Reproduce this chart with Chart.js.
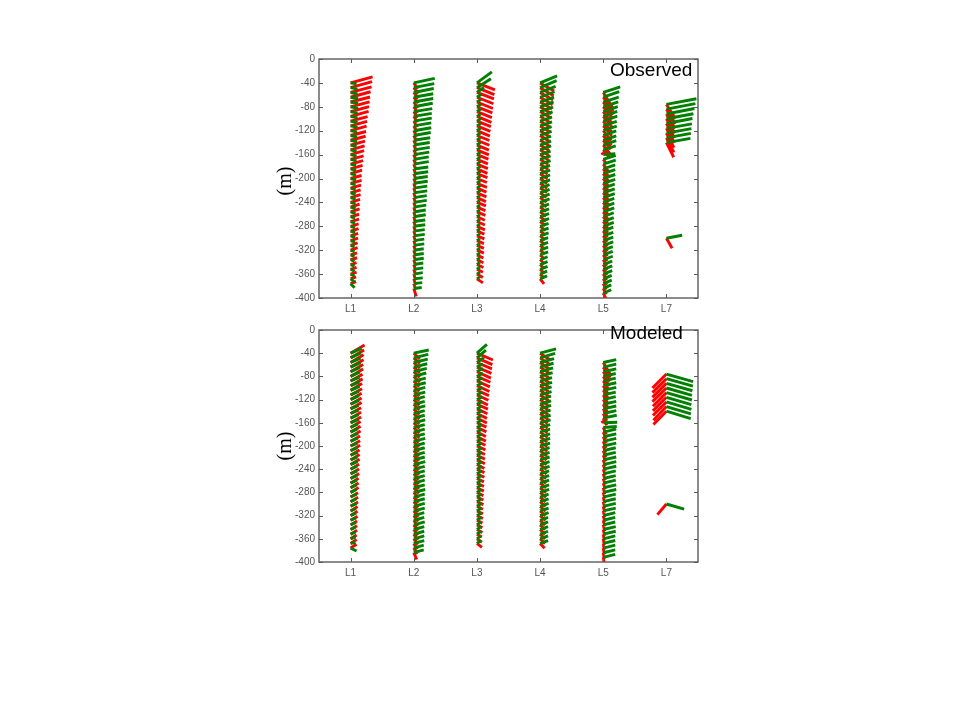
<!DOCTYPE html>
<html>
<head>
<meta charset="utf-8">
<script src="https://cdn.jsdelivr.net/npm/chart.js@4/dist/chart.umd.min.js"></script>
<style>
  html,body{margin:0;padding:0;background:#fff;}
  body{width:960px;height:720px;position:relative;overflow:hidden;}
  canvas{position:absolute;left:0;}
  .ylab{position:absolute;font-family:"Liberation Serif","DejaVu Serif",serif;font-size:20px;color:#000;
        transform:translate(-50%,-50%) rotate(-90deg);white-space:nowrap;}
  .ptitle{position:absolute;font-family:"Liberation Sans",Arial,sans-serif;font-size:19px;color:#000;white-space:nowrap;}
</style>
</head>
<body>
<canvas id="top" width="960" height="320" style="top:0px"></canvas>
<canvas id="bot" width="960" height="264" style="top:320px"></canvas>
<div class="ylab" style="left:284px;top:181px">(m)</div>
<div class="ylab" style="left:284px;top:446px">(m)</div>
<div class="ptitle" style="left:610px;top:59px">Observed</div>
<div class="ptitle" style="left:610px;top:322px">Modeled</div>
<script>
// ---------- categories / axes ----------
const LABELS = ['L1','L2','L3','L4','L5','L7'];
const Y_MIN = -400, Y_MAX = 0, Y_STEP = 40;

// ---------- bin depths (m) per mooring ----------
const depthL1 = [-40,-48,-56,-64,-72,-80,-88,-96,-104,-112,-120,-128,-136,-144,-152,-160,-168,-176,-184,-192,-200,-208,-216,-224,-232,-240,-248,-256,-264,-272,-280,-288,-296,-304,-312,-320,-328,-336,-344,-352,-360,-368,-376];
const depthL2 = [-40,-48,-56,-64,-72,-80,-88,-96,-104,-112,-120,-128,-136,-144,-152,-160,-168,-176,-184,-192,-200,-208,-216,-224,-232,-240,-248,-256,-264,-272,-280,-288,-296,-304,-312,-320,-328,-336,-344,-352,-360,-368,-376,-384];
const depthL3 = [-40,-48,-56,-64,-72,-80,-88,-96,-104,-112,-120,-128,-136,-144,-152,-160,-168,-176,-184,-192,-200,-208,-216,-224,-232,-240,-248,-256,-264,-272,-280,-288,-296,-304,-312,-320,-328,-336,-344,-352,-360,-368];
const depthL4 = [-40,-48,-56,-64,-72,-80,-88,-96,-104,-112,-120,-128,-136,-144,-152,-160,-168,-176,-184,-192,-200,-208,-216,-224,-232,-240,-248,-256,-264,-272,-280,-288,-296,-304,-312,-320,-328,-336,-344,-352,-360,-368];
const depthL5 = [-56,-64,-72,-80,-88,-96,-104,-112,-120,-128,-136,-144,-152,-160,-168,-176,-184,-192,-200,-208,-216,-224,-232,-240,-248,-256,-264,-272,-280,-288,-296,-304,-312,-320,-328,-336,-344,-352,-360,-368,-376,-384,-392];
const depthL7 = [-76,-84,-92,-100,-108,-116,-124,-132,-140,-300];

// ---------- OBSERVED velocity components (east u, north v) ----------
const obsRedU_L1 = [22,21.5,21,20,19.5,19,18.5,18,17,16.5,16,15.5,15,14.5,14,13.5,13,12.5,12,11.5,11,11,10.5,10,10,9.5,9,9,8.5,8.5,8,8,7.5,7.5,7,7,6.5,6.5,6,6,6,5.5,5.5];
const obsRedV_L1 = [6,6,5.5,5.5,5,5,5,5,4.5,4.5,4.5,4,4,4,4,4,3.5,3.5,3.5,3.5,3,3,3,3,3,3,3,3,2.5,2.5,2.5,2.5,2.5,2.5,2.5,2.5,2,2,2,2,2,2,2];
const obsGrnU_L1 = [6,7,7,7.5,7.5,7.5,7,7,7,7,6.5,6.5,6.5,6,6,6,6,5.5,5.5,5.5,5.5,5,5,5,5,5,5,5,4.5,4.5,4.5,4.5,4.5,4.5,4,4,4,4,4,4,4,4,4];
const obsGrnV_L1 = [-1,-1.5,-1.5,-1.5,-1.5,-1.5,-1.5,-1.5,-1.5,-1.5,-1.5,-1.5,-1.5,-1.5,-1.5,-1.5,-1.5,-1.5,-1.5,-1.5,-1.5,-1.5,-1.5,-1.5,-1.5,-1.5,-1.5,-1.5,-1.5,-1.5,-1.5,-1.5,-1.5,-1.5,-1.5,-1.5,-1.5,-1.5,-1.5,-2,-2,-3,-4];

const obsRedU_L2 = [4,4.5,4.5,4.5,4,4,4,3.5,3.5,3.5,3,3,3,3,3,2.5,2.5,2.5,2.5,2.5,2.5,2,2,2,2,2,2,2,2,2,2,2,2,2,2,2,2,2,2,2,2,2,2,2.5];
const obsRedV_L2 = [-6,-6,-6,-6,-6,-6,-6,-6,-6,-6,-6,-6,-6,-6,-6,-6,-6,-6,-6,-6,-6,-6,-6,-6,-6,-6,-6,-6,-6,-6,-6,-6,-6,-6,-6,-6,-6,-6,-6,-6,-6,-6,-6,-8];
const obsGrnU_L2 = [21,20.5,20,19.5,19.5,19,18.5,18,18,17.5,17.5,17,16.5,16,16,15.5,15,15,14.5,14.5,14,14,13.5,13.5,13,13,12.5,12,12,11.5,11.5,11,11,10.5,10.5,10,10,10,9.5,9.5,9,9,8.5,8];
const obsGrnV_L2 = [4.5,4,4,3.5,3.5,3.5,3,3,3,3,3,3,2.5,2.5,2.5,2.5,2.5,2.5,2,2,2,2,2,2,2,2,2,2,2,1.5,1.5,1.5,1.5,1.5,1.5,1.5,1.5,1.5,1.5,1.5,1.5,1,1,1];

const obsRedU_L3 = [18,17.5,17,16.5,16,15.5,15,14.5,14,13.5,13,12.5,12.5,12,12,11.5,11,11,10.5,10.5,10,10,9.5,9.5,9,9,8.5,8.5,8,8,8,7.5,7.5,7,7,7,6.5,6.5,6.5,6,6,6];
const obsRedV_L3 = [-7,-7,-6.5,-6.5,-6.5,-6,-6,-6,-5.5,-5.5,-5.5,-5,-5,-5,-5,-4.5,-4.5,-4.5,-4.5,-4,-4,-4,-4,-4,-4,-3.5,-3.5,-3.5,-3.5,-3.5,-3.5,-3,-3,-3,-3,-3,-3,-3,-3,-3,-3.5,-4];
const obsGrnU_L3 = [15,14,7,4.5,4,4,4,4,4,4,3.5,3.5,3.5,3.5,3.5,3.5,3.5,3.5,3.5,3.5,3.5,3.5,3.5,3.5,3,3,3,3,3,3,3,3,3,3,3,3,3,3,3,3,3,3];
const obsGrnV_L3 = [11,9,5,3,2.5,2.5,2.5,2.5,2.5,2.5,2.5,2.5,2.5,2.5,2.5,2.5,2.5,2.5,2.5,2.5,2.5,2.5,2.5,2.5,2,2,2,2,2,2,2,2,2,2,2,2,2,2,2,2,2,2];

const obsRedU_L4 = [14,13.5,13,12.5,12,11.5,11,10.5,10,10,9.5,9.5,9,9,8.5,8.5,8,8,7.5,7.5,7,7,7,6.5,6.5,6.5,6,6,6,5.5,5.5,5.5,5,5,5,4.5,4.5,4.5,4,4,4,4];
const obsRedV_L4 = [-8,-8,-7.5,-7.5,-7,-7,-6.5,-6.5,-6,-6,-6,-6,-5.5,-5.5,-5.5,-5.5,-5,-5,-5,-5,-5,-5,-4.5,-4.5,-4.5,-4.5,-4.5,-4.5,-4.5,-4,-4,-4,-4,-4,-4,-4,-4,-4,-4,-4,-4,-5];
const obsGrnU_L4 = [17,16.5,15.5,14.5,14,13.5,13,12.5,12,12,11.5,11.5,11,11,11,10.5,10.5,10.5,10,10,10,10,9.5,9.5,9.5,9.5,9,9,9,9,8.5,8.5,8.5,8,8,8,8,7.5,7.5,7.5,7,7];
const obsGrnV_L4 = [7,7,6,5.5,5,5,4.5,4.5,4,4,4,4,4,4,4,3.5,3.5,3.5,3.5,3.5,3.5,3.5,3.5,3.5,3.5,3.5,3,3,3,3,3,3,3,3,3,3,3,3,3,3,3,3];

const obsRedU_L5 = [10,10,9.5,9.5,9,9,8.5,8.5,8,8,7.5,7,6.5,-1.5,3,5.5,5.5,5.5,5,5,5,5,5,5,4.5,4.5,4.5,4.5,4.5,4,4,4,4,4,4,3.5,3.5,3.5,3.5,3.5,3,3,3];
const obsRedV_L5 = [-16,-14,-13,-12,-12,-11,-11,-10,-10,-10,-9,-9,-8,2,-4,-8,-8,-8,-7.5,-7.5,-7.5,-7,-7,-7,-7,-7,-6.5,-6.5,-6.5,-6.5,-6,-6,-6,-6,-6,-6,-6,-6,-6,-6,-6,-6,-6];
const obsGrnU_L5 = [17,16,15.5,15,14.5,14,14,13.5,13.5,13,13,13,12.5,12,12.5,12.5,12,12,12,12,11.5,11.5,11.5,11,11,11,10.5,10.5,10.5,10,10,10,10,9.5,9.5,9.5,9,9,9,8.5,8.5,8,8];
const obsGrnV_L5 = [5.5,5.5,5,5,5,5,5,4.5,4.5,4.5,4.5,4.5,4,1,4,4,4,4,4,4,4,4,4,4,4,4,4,4,4,4,3.5,3.5,3.5,3.5,3.5,3.5,3.5,3.5,3.5,3.5,3.5,3.5,3.5];

const obsRedU_L7 = [9,9,8.5,8.5,8,8,7.5,7.5,7.3,5.7];
const obsRedV_L7 = [-14,-14.5,-14.5,-14.5,-14.5,-14.5,-14.5,-14.5,-14.6,-10];
const obsGrnU_L7 = [30,29,28,27,26,25.5,25,24.5,24,15.7];
const obsGrnV_L7 = [5.7,5.5,5.5,5,5,4.5,4.5,4.5,4.3,3];

// ---------- MODELED velocity components ----------
const modRedU_L1 = [14,13.5,13,13,12.5,12.5,12,12,11.5,11.5,11,11,11,10.5,10.5,10.5,10,10,10,9.5,9.5,9.5,9,9,9,8.5,8.5,8.5,8,8,8,7.5,7.5,7.5,7,7,7,6.5,6.5,6.5,6,6,6];
const modRedV_L1 = [8.5,8,8,7.5,7.5,7.5,7,7,7,6.5,6.5,6.5,6.5,6,6,6,6,6,6,5.5,5.5,5.5,5.5,5.5,5.5,5,5,5,5,5,5,4.5,4.5,4.5,4.5,4.5,4,4,4,4,4,4,4];
const modGrnU_L1 = [11,10.5,10,10,9.5,9.5,9,9,9,8.5,8.5,8.5,8,8,8,8,7.5,7.5,7.5,7.5,7,7,7,7,7,6.5,6.5,6.5,6.5,6,6,6,6,6,5.5,5.5,5.5,5.5,5,5,5,5,6];
const modGrnV_L1 = [5,5,4.5,4.5,4.5,4.5,4,4,4,4,4,4,3.5,3.5,3.5,3.5,3.5,3.5,3.5,3.5,3,3,3,3,3,3,3,3,3,3,3,3,3,3,2.5,2.5,2.5,2.5,2.5,2,2,1,-3];

const modRedU_L2 = [6,6,6,6,6,6,5.5,5.5,5.5,5.5,5.5,5.5,5.5,5.5,5.5,5.5,5.5,5.5,5,5,5,5,5,5,5,5,5,5,5,5,4.5,4.5,4.5,4.5,4.5,4.5,4,4,4,4,4,3.5,3.5,3];
const modRedV_L2 = [-6,-6,-6,-6,-6,-6,-6,-6,-6,-6,-6,-6,-6,-6,-6,-6,-6,-6,-6,-6,-6,-6,-6,-6,-6,-6,-6,-6,-6,-6,-6,-6,-6,-6,-6,-6,-6,-6,-6,-6,-6,-6,-6,-7];
const modGrnU_L2 = [15,14.5,14,13.5,13,12.5,12,12,11.5,11.5,11,11,11.5,11,11,11.5,11,11,11,11.5,11,11,11,11,11.5,11,11,11,11,11,11.5,11,11,11,11,10.5,10.5,11,10.5,10.5,10.5,10.5,10,10];
const modGrnV_L2 = [3.3,3.5,3.5,3.5,3.5,3.5,3,3,3,3,3,3,3,3,3,3,3,3,3,3,3,3,3,3,3,3,3,3,3,3,3,3,3,3,3,3,3,3,3,3,3,3,3,3];

const modRedU_L3 = [16,15.5,15,14.5,14,13.5,13,12.5,12,11.5,11,11,10.5,10,10,9.5,9.5,9,9,8.5,8.5,8,8,8,7.5,7.5,7.5,7,7,7,6.5,6.5,6.5,6,6,6,5.5,5.5,5.5,5,5,5];
const modRedV_L3 = [-7,-7,-6.5,-6.5,-6.5,-6,-6,-6,-5.5,-5.5,-5.5,-5,-5,-5,-5,-4.5,-4.5,-4.5,-4.5,-4,-4,-4,-4,-4,-4,-3.5,-3.5,-3.5,-3.5,-3.5,-3.5,-3,-3,-3,-3,-3,-3,-3,-3,-3,-3.5,-4];
const modGrnU_L3 = [10,9,7,6,6,6,5.5,5.5,5.5,5.5,5.5,5.5,5,5,5,5,5,5,5,5,5,5,5,5,5,5,4.5,4.5,4.5,4.5,4.5,4.5,4.5,4.5,4.5,4.5,4.5,4,4,4,4,4];
const modGrnV_L3 = [9,8,5,3.5,3.5,3.5,3.5,3,3,3,3,3,3,3,3,3,3,3,3,3,3,3,3,3,3,3,3,3,3,3,3,3,3,3,3,3,3,3,3,3,3,3];

const modRedU_L4 = [10,10,9.5,9.5,9,9,9,8.5,8.5,8.5,8,8,8,8,7.5,7.5,7.5,7.5,7,7,7,7,6.5,6.5,6.5,6.5,6,6,6,6,6,5.5,5.5,5.5,5.5,5.5,5,5,5,5,5,4.5];
const modRedV_L4 = [-7,-7,-7,-6.5,-6.5,-6.5,-6.5,-6,-6,-6,-6,-6,-6,-6,-5.5,-5.5,-5.5,-5.5,-5.5,-5.5,-5.5,-5.5,-5,-5,-5,-5,-5,-5,-5,-5,-5,-5,-5,-5,-5,-5,-5,-5,-5,-5,-5,-5];
const modGrnU_L4 = [16,15,14,13.5,13,12.5,12,12,11.5,11.5,11,11,11,10.5,10.5,10.5,10,10,10,10,10,9.5,9.5,9.5,9.5,9.5,9,9,9,9,9,8.5,8.5,8.5,8.5,8.5,8,8,8,8,8,8];
const modGrnV_L4 = [4.5,4.5,4,4,4,4,3.5,3.5,3.5,3.5,3.5,3.5,3.5,3.5,3,3,3,3,3,3,3,3,3,3,3,3,3,3,3,3,3,3,3,3,3,3,3,3,3,3,3,3];

const modRedU_L5 = [7,7,6.5,6,5.5,5,5,4.5,4.5,4,4,3.5,3.5,-1.5,3,3,3,2.5,2.5,2.5,2.5,2,2,2,2,2,2,1.5,1.5,1.5,1.5,1.5,1.5,1.5,1.5,1.5,1.5,1,1,1,1,1,1];
const modRedV_L5 = [-12,-11,-10,-10,-9,-9,-8.5,-8.5,-8,-8,-8,-7.5,-7.5,2,-7,-7,-7,-7,-7,-7,-6.5,-6.5,-6.5,-6.5,-6.5,-6.5,-6.5,-6.5,-6.5,-6.5,-6.5,-6.5,-6.5,-6.5,-6.5,-6.5,-6.5,-6.5,-6.5,-6.5,-6.5,-6.5,-6.5];
const modGrnU_L5 = [13,13,13,12.5,12.5,13,13,12.5,12.5,13,13,13,13.5,14,13.5,13,13,13,13,12.5,12.5,13,13,13,12.5,12.5,12.5,13,13,12.5,12.5,12.5,12.5,12,12,12,12.5,12.5,12,12,12,12,12];
const modGrnV_L5 = [3,3,3,3,3,3,3,3,3,3,3,3,3,0.5,1,3,3,3,3,3,3,3,3,3,3,3,3,3,3,3,3,3,3,3,3,3,3,3,3,3,3,3,3];

const modRedU_L7 = [-14,-14,-14,-14,-13.5,-13.5,-13.5,-13,-13,-9];
const modRedV_L7 = [-14.3,-14.3,-14.3,-14,-14,-14,-14,-14,-13.6,-11];
const modGrnU_L7 = [26.7,26.5,26,25.5,25.5,25,25,24.5,24.3,17.7];
const modGrnV_L7 = [-7.7,-7.7,-7.6,-7.6,-7.6,-7.6,-7.6,-7.6,-7.6,-5.3];

// ---------- stick scaling (velocity unit -> axis units, isotropic on screen) ----------
const STICK_X = 1 / 63.17;   // x-axis units per velocity unit
const STICK_Y = 400 / 239;   // metres per velocity unit

const GREEN = 'rgb(0,128,0)';
const RED = 'rgb(255,0,0)';

function sticks(parts) {
  const pts = [];
  parts.forEach(([pos, depths, u, v]) => {
    depths.forEach((d, i) => {
      pts.push({x: pos, y: d});
      pts.push({x: pos + u[i] * STICK_X, y: d + v[i] * STICK_Y});
      pts.push({x: pos, y: null});
    });
  });
  return pts;
}

const framePlugin = {
  id: 'frame',
  afterDraw(chart) {
    const {ctx, chartArea: a, scales} = chart;
    ctx.save();
    ctx.strokeStyle = '#5a5a5a';
    ctx.lineWidth = 1.4;
    ctx.strokeRect(a.left, a.top, a.right - a.left, a.bottom - a.top);
    ctx.lineWidth = 1;
    ctx.beginPath();
    scales.y.ticks.forEach(t => {
      const py = Math.round(scales.y.getPixelForValue(t.value)) + 0.5;
      ctx.moveTo(a.left, py); ctx.lineTo(a.left + 4, py);
      ctx.moveTo(a.right, py); ctx.lineTo(a.right - 4, py);
    });
    scales.x.ticks.forEach(t => {
      const px = Math.round(scales.x.getPixelForValue(t.value)) + 0.5;
      ctx.moveTo(px, a.bottom); ctx.lineTo(px, a.bottom - 4);
      ctx.moveTo(px, a.top); ctx.lineTo(px, a.top + 4);
    });
    ctx.stroke();
    ctx.restore();
  }
};

function makePanel(id, padTop, green, red) {
  return new Chart(document.getElementById(id), {
    type: 'scatter',
    data: {
      datasets: [
        {data: sticks(green), showLine: true, borderColor: GREEN, borderWidth: 2.9, pointRadius: 0, spanGaps: false, borderCapStyle: 'butt'},
        {data: sticks(red), showLine: true, borderColor: RED, borderWidth: 2.9, pointRadius: 0, spanGaps: false, borderCapStyle: 'butt'}
      ]
    },
    options: {
      responsive: false,
      animation: false,
      events: [],
      layout: {padding: {left: 270, right: 262, top: padTop, bottom: 0}},
      plugins: {legend: {display: false}, tooltip: {enabled: false}},
      scales: {
        x: {
          type: 'linear', min: 0.5, max: LABELS.length + 0.5,
          grid: {display: false, drawTicks: false}, border: {display: false},
          afterBuildTicks: s => { s.ticks = LABELS.map((_, i) => ({value: i + 1})); },
          afterFit: s => { s.height = 22; },
          ticks: {
            padding: 5, color: '#555', maxRotation: 0,
            font: {family: '"Liberation Sans", Arial, sans-serif', size: 10},
            callback: v => LABELS[Math.round(v) - 1]
          }
        },
        y: {
          type: 'linear', min: Y_MIN, max: Y_MAX,
          grid: {display: false, drawTicks: false}, border: {display: false},
          afterFit: s => { s.width = 49; },
          ticks: {
            stepSize: Y_STEP, padding: 4, color: '#555',
            font: {family: '"Liberation Sans", Arial, sans-serif', size: 10}
          }
        }
      }
    },
    plugins: [framePlugin]
  });
}

makePanel('top', 59,
  [[1, depthL1, obsGrnU_L1, obsGrnV_L1], [2, depthL2, obsGrnU_L2, obsGrnV_L2], [3, depthL3, obsGrnU_L3, obsGrnV_L3],
   [4, depthL4, obsGrnU_L4, obsGrnV_L4], [5, depthL5, obsGrnU_L5, obsGrnV_L5], [6, depthL7, obsGrnU_L7, obsGrnV_L7]],
  [[1, depthL1, obsRedU_L1, obsRedV_L1], [2, depthL2, obsRedU_L2, obsRedV_L2], [3, depthL3, obsRedU_L3, obsRedV_L3],
   [4, depthL4, obsRedU_L4, obsRedV_L4], [5, depthL5, obsRedU_L5, obsRedV_L5], [6, depthL7, obsRedU_L7, obsRedV_L7]]);

makePanel('bot', 3,
  [[1, depthL1, modGrnU_L1, modGrnV_L1], [2, depthL2, modGrnU_L2, modGrnV_L2], [3, depthL3, modGrnU_L3, modGrnV_L3],
   [4, depthL4, modGrnU_L4, modGrnV_L4], [5, depthL5, modGrnU_L5, modGrnV_L5], [6, depthL7, modGrnU_L7, modGrnV_L7]],
  [[1, depthL1, modRedU_L1, modRedV_L1], [2, depthL2, modRedU_L2, modRedV_L2], [3, depthL3, modRedU_L3, modRedV_L3],
   [4, depthL4, modRedU_L4, modRedV_L4], [5, depthL5, modRedU_L5, modRedV_L5], [6, depthL7, modRedU_L7, modRedV_L7]]);
</script>
</body>
</html>
